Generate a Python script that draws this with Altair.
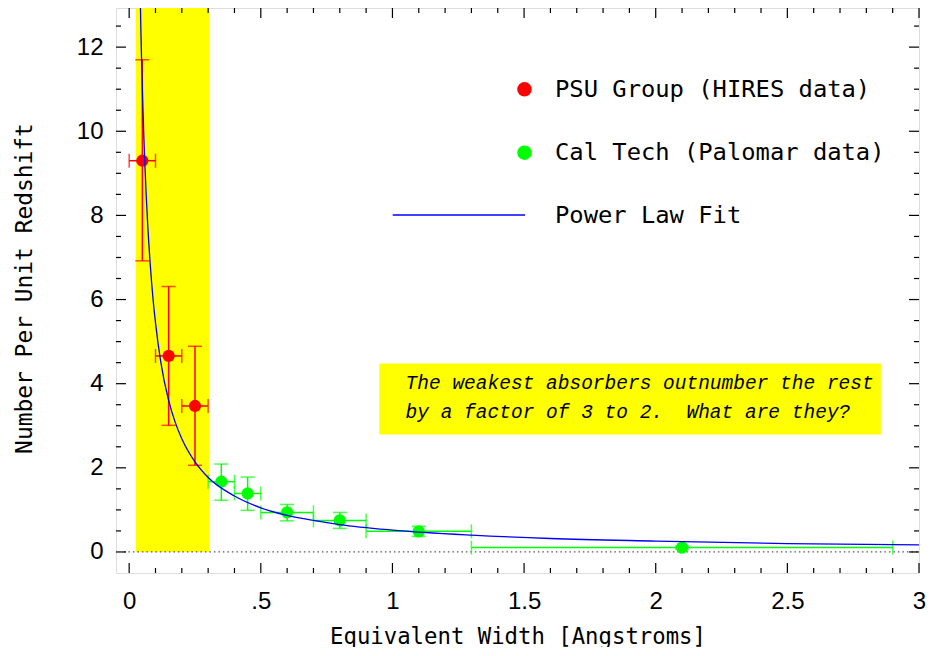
import altair as alt
import pandas as pd

# ---- data ----
psu_x = [0.05, 0.15, 0.25]
psu_y = [9.30, 4.66, 3.47]
psu_xlo = [0.0, 0.1, 0.2]
psu_xhi = [0.1, 0.2, 0.3]
psu_ylo = [6.92, 3.01, 2.06]
psu_yhi = [11.70, 6.31, 4.89]

cal_x = [0.35, 0.45, 0.6, 0.8, 1.1, 2.1]
cal_y = [1.67, 1.39, 0.94, 0.75, 0.49, 0.105]
cal_xlo = [0.3, 0.4, 0.5, 0.7, 0.9, 1.3]
cal_xhi = [0.4, 0.5, 0.7, 0.9, 1.3, 2.9]
cal_ylo = [1.23, 0.99, 0.74, 0.56, 0.37, 0.07]
cal_yhi = [2.09, 1.78, 1.13, 0.94, 0.61, 0.14]

fit_x = [0.04, 0.045, 0.05, 0.055, 0.06, 0.065, 0.07, 0.08, 0.09, 0.1, 0.12, 0.15,
         0.175, 0.2, 0.25, 0.3, 0.4, 0.5, 0.6, 0.7, 0.8, 1.0, 1.3, 1.6, 2.0, 2.5, 3.0]
fit_y = [13.9, 12.24, 11.0, 10.0, 9.15, 8.45, 7.83, 6.84, 6.06, 5.45, 4.52, 3.60,
         3.08, 2.69, 2.14, 1.77, 1.33, 1.05, 0.87, 0.75, 0.65, 0.52, 0.40, 0.32, 0.26, 0.20, 0.17]

band = {"x": [0.025], "x2": [0.305], "y": [0.0], "y2": [13.0]}
note_box = {"x": [0.95], "x2": [2.855], "y": [2.79], "y2": [4.48]}
note_lines = ["The weakest absorbers outnumber the rest",
              "by a factor of 3 to 2.\u00a0 What are they?"]
note_x = [1.05, 1.05]
note_y = [4.02, 3.33]

legend_labels = ["PSU Group (HIRES data)", "Cal Tech (Palomar data)", "Power Law Fit"]

x_major = [0, 0.5, 1, 1.5, 2, 2.5, 3]
x_minor = [0.1, 0.2, 0.3, 0.4, 0.6, 0.7, 0.8, 0.9, 1.1, 1.2, 1.3, 1.4, 1.6, 1.7, 1.8,
           1.9, 2.1, 2.2, 2.3, 2.4, 2.6, 2.7, 2.8, 2.9]
y_major = [0, 2, 4, 6, 8, 10, 12]
y_minor = [0.5, 1, 1.5, 2.5, 3, 3.5, 4.5, 5, 5.5, 6.5, 7, 7.5, 8.5, 9, 9.5, 10.5, 11, 11.5, 12.5]

W, H = 803, 565
XD = [-0.05, 3.0]
YD = [-0.5, 12.93]

RED = "#ff0000"
GREEN = "#00ff00"
BLUE = "#0000ff"

xs = alt.Scale(domain=XD, nice=False, zero=False)
ys = alt.Scale(domain=YD, nice=False, zero=False)

psu = pd.DataFrame({"x": psu_x, "y": psu_y, "xlo": psu_xlo, "xhi": psu_xhi,
                    "ylo": psu_ylo, "yhi": psu_yhi})
cal = pd.DataFrame({"x": cal_x, "y": cal_y, "xlo": cal_xlo, "xhi": cal_xhi,
                    "ylo": cal_ylo, "yhi": cal_yhi})
fit = pd.DataFrame({"x": fit_x, "y": fit_y})

X_AXIS = alt.Axis(values=x_major, labelExpr="datum.value == 0.5 ? '.5' : toString(datum.value)",
                  ticks=False, domain=False, grid=False, labelFont="Liberation Sans",
                  labelFontSize=24, labelColor="black", labelPadding=16, labelFlush=False,
                  labelOverlap=False,
                  title="Equivalent Width [Angstroms]", titleFont="DejaVu Sans Mono",
                  titleFontSize=22.3, titleFontWeight="normal", titleColor="black",
                  titleY=63, titleBaseline="middle")
Y_AXIS = alt.Axis(values=y_major, ticks=False, domain=False, grid=False,
                  labelFont="Liberation Sans", labelFontSize=24, labelColor="black",
                  labelPadding=13, labelFlush=False, labelOverlap=False,
                  title="Number Per Unit Redshift",
                  titleFont="DejaVu Sans Mono", titleFontSize=22.9, titleFontWeight="normal",
                  titleColor="black", titleX=-92, titleY=280, titleBaseline="middle",
                  titleAngle=270)

# yellow band
band_layer = alt.Chart(pd.DataFrame(band)).mark_rect(color="#ffff00", clip=True).encode(
    x=alt.X("x:Q", scale=xs, axis=X_AXIS), x2="x2:Q",
    y=alt.Y("y:Q", scale=ys, axis=Y_AXIS), y2="y2:Q")

zero_line = alt.Chart(pd.DataFrame({"x": [-0.02], "x2": [3.0], "y": [0.0]})).mark_rule(
    color="#555555", strokeDash=[1.5, 3], strokeWidth=1.3).encode(
    x=alt.X("x:Q", scale=xs), x2="x2:Q", y=alt.Y("y:Q", scale=ys))

box_layer = alt.Chart(pd.DataFrame(note_box)).mark_rect(color="#ffff00").encode(
    x=alt.X("x:Q", scale=xs), x2="x2:Q", y=alt.Y("y:Q", scale=ys), y2="y2:Q")

note_layer = alt.Chart(pd.DataFrame({"x": note_x, "y": note_y, "t": note_lines})).mark_text(
    align="left", baseline="middle", font="Liberation Mono", fontStyle="italic",
    fontSize=19.5, color="black").encode(
    x=alt.X("x:Q", scale=xs), y=alt.Y("y:Q", scale=ys), text="t:N")

fit_layer = alt.Chart(fit).mark_line(color=BLUE, strokeWidth=1.3, clip=True,
                                     interpolate="monotone").encode(
    x=alt.X("x:Q", scale=xs), y=alt.Y("y:Q", scale=ys))


def errbars(df, color):
    base = alt.Chart(df)
    vbar = base.mark_rule(color=color, strokeWidth=1.5).encode(
        x=alt.X("x:Q", scale=xs), y=alt.Y("ylo:Q", scale=ys), y2="yhi:Q")
    hbar = base.mark_rule(color=color, strokeWidth=1.5).encode(
        x=alt.X("xlo:Q", scale=xs), x2="xhi:Q", y=alt.Y("y:Q", scale=ys))
    cap_lo = base.mark_tick(color=color, orient="horizontal", size=14, thickness=1.5).encode(
        x=alt.X("x:Q", scale=xs), y=alt.Y("ylo:Q", scale=ys))
    cap_hi = base.mark_tick(color=color, orient="horizontal", size=14, thickness=1.5).encode(
        x=alt.X("x:Q", scale=xs), y=alt.Y("yhi:Q", scale=ys))
    cap_l = base.mark_tick(color=color, orient="vertical", size=14, thickness=1.5).encode(
        x=alt.X("xlo:Q", scale=xs), y=alt.Y("y:Q", scale=ys))
    cap_r = base.mark_tick(color=color, orient="vertical", size=14, thickness=1.5).encode(
        x=alt.X("xhi:Q", scale=xs), y=alt.Y("y:Q", scale=ys))
    dots = base.mark_circle(color=color, size=150, opacity=1).encode(
        x=alt.X("x:Q", scale=xs), y=alt.Y("y:Q", scale=ys))
    return [vbar, hbar, cap_lo, cap_hi, cap_l, cap_r, dots]


one = pd.DataFrame({"k": [0]})
LEG_FONT = dict(align="left", baseline="middle", font="DejaVu Sans Mono",
                fontSize=23.8, color="black")
legend = [
    alt.Chart(one).mark_circle(color=RED, size=210, opacity=1).encode(
        x=alt.value(408.5), y=alt.value(81.3)),
    alt.Chart(one).mark_circle(color=GREEN, size=210, opacity=1).encode(
        x=alt.value(408.5), y=alt.value(144.7)),
    alt.Chart(one).mark_rule(color=BLUE, strokeWidth=1.3).encode(
        x=alt.value(276.7), x2=alt.value(409), y=alt.value(207)),
    alt.Chart(one).mark_text(**LEG_FONT).encode(
        x=alt.value(439), y=alt.value(81.5), text=alt.value(legend_labels[0])),
    alt.Chart(one).mark_text(**LEG_FONT).encode(
        x=alt.value(439), y=alt.value(145), text=alt.value(legend_labels[1])),
    alt.Chart(one).mark_text(**LEG_FONT).encode(
        x=alt.value(439), y=alt.value(207.5), text=alt.value(legend_labels[2])),
]


def ticks_x(vals, length):
    d = pd.DataFrame({"v": vals})
    bot = alt.Chart(d).mark_rule(color="black", strokeWidth=1.2).encode(
        x=alt.X("v:Q", scale=xs), y=alt.value(H), y2=alt.value(H - length))
    top = alt.Chart(d).mark_rule(color="black", strokeWidth=1.2).encode(
        x=alt.X("v:Q", scale=xs), y=alt.value(0), y2=alt.value(length))
    return [bot, top]


def ticks_y(vals, length):
    d = pd.DataFrame({"v": vals})
    left = alt.Chart(d).mark_rule(color="black", strokeWidth=1.2).encode(
        y=alt.Y("v:Q", scale=ys), x=alt.value(0), x2=alt.value(length))
    right = alt.Chart(d).mark_rule(color="black", strokeWidth=1.2).encode(
        y=alt.Y("v:Q", scale=ys), x=alt.value(W), x2=alt.value(W - length))
    return [left, right]


layers = ([band_layer, zero_line, box_layer, note_layer]
          + errbars(psu, RED) + errbars(cal, GREEN) + [fit_layer]
          + legend
          + ticks_x(x_major, 10) + ticks_x(x_minor, 5)
          + ticks_y(y_major, 10) + ticks_y(y_minor, 5))

chart = alt.layer(*layers).properties(
    width=W, height=H,
    autosize=alt.AutoSizeParams(type="none"),
    padding={"left": 108, "top": 0, "right": 7, "bottom": 74},
).configure_view(stroke="#111111", strokeWidth=1.6).configure(background="white")

chart.save("out.html", embed_options={"renderer": "svg", "actions": False})
